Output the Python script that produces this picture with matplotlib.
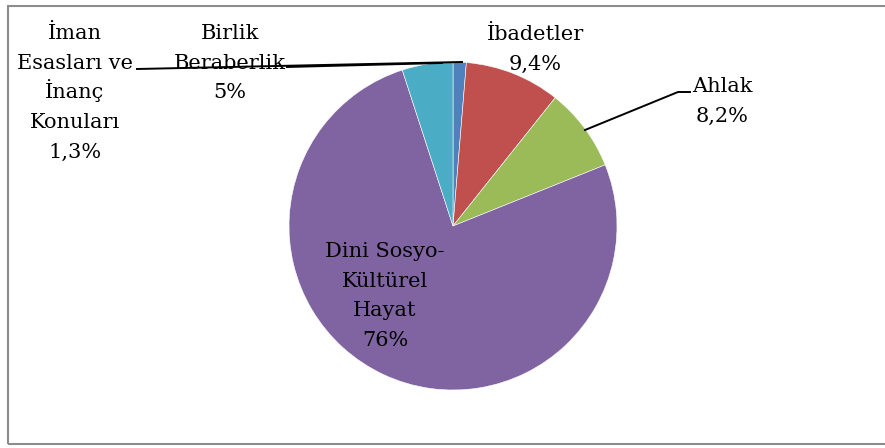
import matplotlib
matplotlib.use('Agg')
import matplotlib.pyplot as plt
from matplotlib.patches import Rectangle

W, H = 885, 448

# data
labels = ['İman\nEsasları ve\nİnanç\nKonuları', 'İbadetler', 'Ahlak',
          'Dini Sosyo-\nKültürel\nHayat', 'Birlik\nBeraberlik']
values = [1.3, 9.4, 8.2, 76, 5]
pct_text = ['1,3%', '9,4%', '8,2%', '76%', '5%']
colors = ['#4F81BD', '#C0504D', '#9BBB59', '#8064A2', '#4BACC6']

plt.rcParams['font.family'] = ['DejaVu Serif']

fig = plt.figure(figsize=(W / 100, H / 100), dpi=100)
ax = fig.add_axes([0, 0, 1, 1])

cx, cy, r = 453, H - 226, 164
ax.pie(values, colors=colors, startangle=90, counterclock=False,
       center=(cx, cy), radius=r, frame=True,
       wedgeprops=dict(edgecolor='white', linewidth=0.4))
ax.set_xlim(0, W)
ax.set_ylim(0, H)
ax.set_aspect('equal')
ax.axis('off')

fs = 15
step = 29.7
# x centre and first baseline of each label (pixels from top)
pos = [(75, 39), (535, 40), (722, 92), (385, 257), (230, 39)]
for lab, p, (x, y0) in zip(labels, pct_text, pos):
    lines = lab.split('\n') + [p]
    for i, line in enumerate(lines):
        ax.text(x, H - (y0 + i * step), line, ha='center', va='baseline',
                fontsize=fs, color='black')

# leader lines
ax.plot([137, 462], [H - 69, H - 62], color='black', lw=1.4)
ax.plot([287, 442], [H - 67, H - 63], color='black', lw=1.4)
ax.plot([585, 678, 690], [H - 130, H - 92, H - 92], color='black', lw=1.4)

# chart border
fig.patches.append(Rectangle((8 / W, 4 / H), 1.0, 1 - 10 / H,
                             transform=fig.transFigure, fill=False,
                             edgecolor='#8c8c8c', linewidth=1.5))

plt.savefig('out.png', dpi=100)
